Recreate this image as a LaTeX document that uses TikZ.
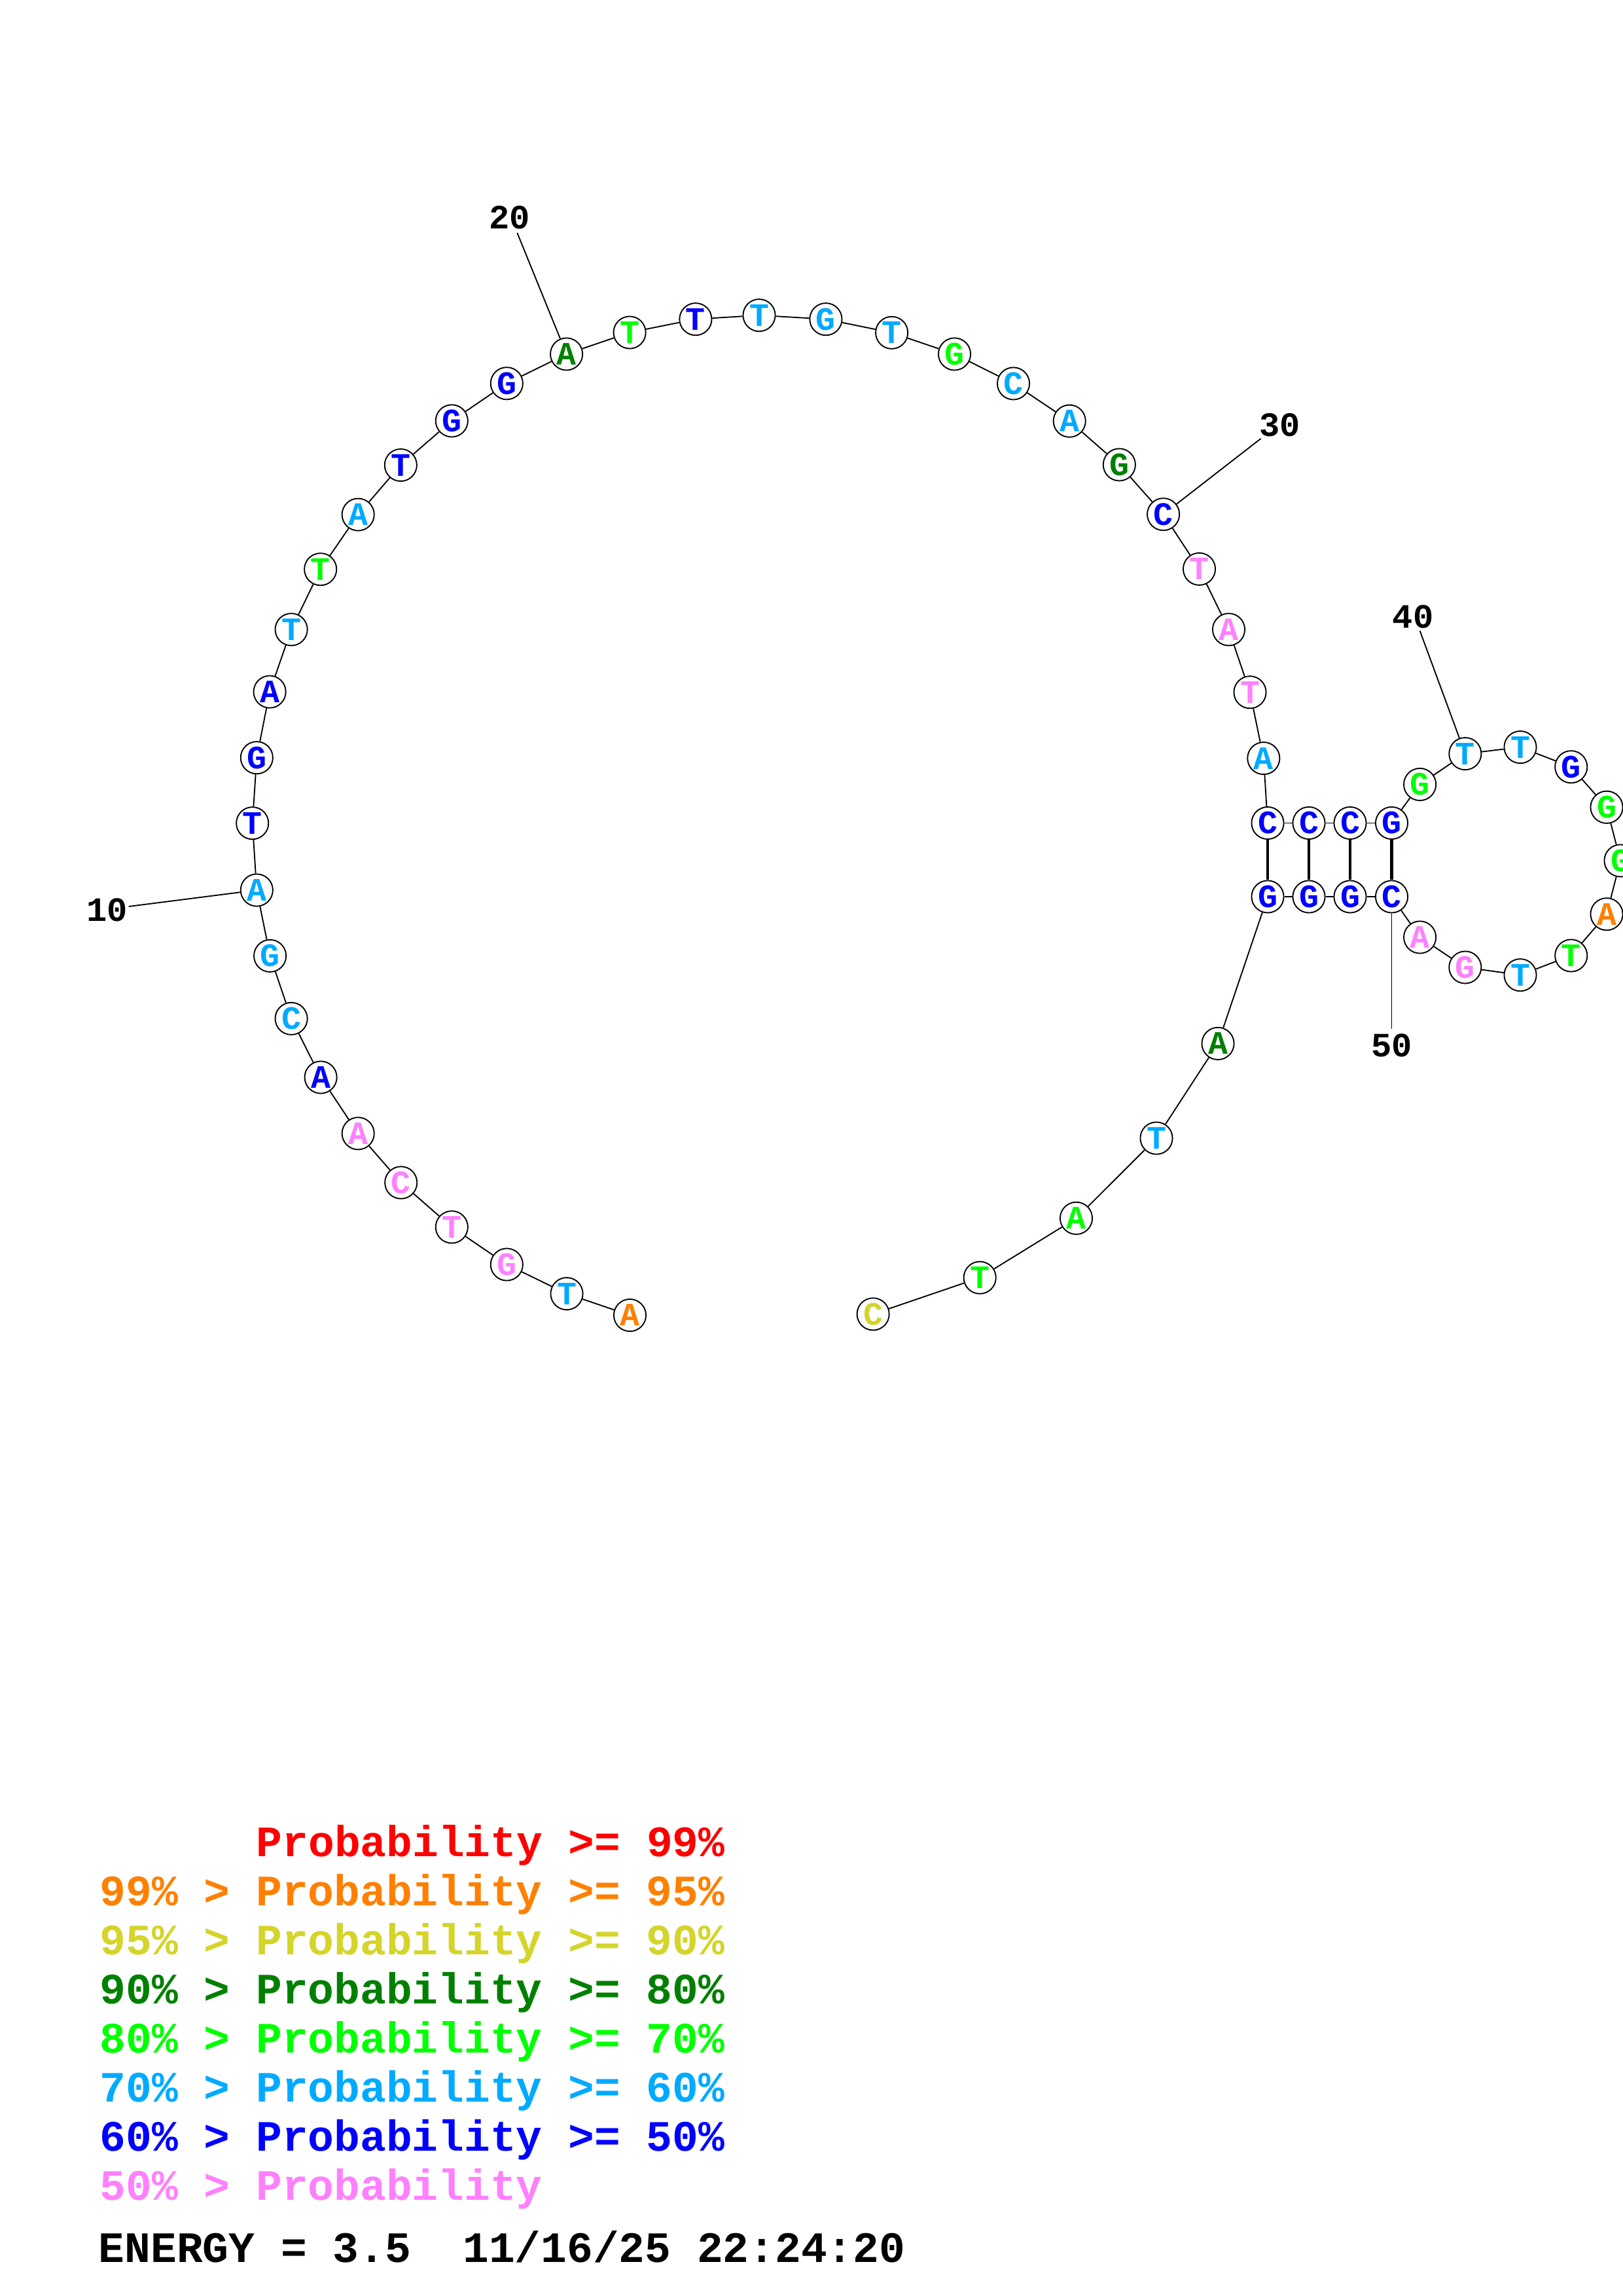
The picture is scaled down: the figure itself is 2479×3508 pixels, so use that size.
\documentclass[tikz,border=0pt]{standalone}
\usepackage{fontspec}
\setmainfont{Liberation Mono}
\definecolor{cR}{RGB}{255,0,0}
\definecolor{cO}{RGB}{255,128,0}
\definecolor{cY}{RGB}{212,212,42}
\definecolor{cD}{RGB}{0,128,0}
\definecolor{cG}{RGB}{0,255,0}
\definecolor{cL}{RGB}{0,170,255}
\definecolor{cB}{RGB}{0,0,255}
\definecolor{cP}{RGB}{255,128,255}
\begin{document}
\begin{tikzpicture}[x=0.24pt,y=-0.24pt,
  base/.style={circle,draw=black,fill=white,line width=0.45pt,minimum size=11.8pt,inner sep=0pt,
    font=\fontsize{12}{12}\selectfont\bfseries},
  bb/.style={line width=0.45pt},
  bp/.style={line width=1.15pt},
  numlab/.style={font=\fontsize{12.5}{12.5}\selectfont\bfseries,inner sep=0pt},
  leg/.style={font=\fontsize{15.9}{15.9}\selectfont\bfseries,inner sep=0pt,anchor=base west}]
\useasboundingbox (0,0) rectangle (2479,3508);
\foreach \i/\x/\y/\t/\c in {
 1/962.5/2009.5/A/cO, 2/866/1976.6/T/cL, 3/774.3/1932/G/cP, 4/690.3/1874.8/T/cP,
 5/612.7/1806.9/C/cP, 6/547.2/1731.8/A/cP, 7/490.1/1646/A/cB, 8/445.1/1556.3/C/cL,
 9/412.6/1460.4/G/cL, 10/392.3/1360/A/cL, 11/385.7/1257.7/T/cB, 12/392.3/1157.7/G/cB,
 13/412.1/1057/A/cB, 14/445.1/961.8/T/cL, 15/489.7/869.8/T/cG, 16/547.2/786.2/A/cL,
 17/612.3/710.6/T/cB, 18/690.3/643/G/cB, 19/774.3/585.8/G/cB, 20/865.6/541/A/cD,
 21/962.1/508/T/cG, 22/1062.9/487.7/T/cB, 23/1160/481.7/T/cL, 24/1261.9/487.7/G/cL,
 25/1362.6/508.3/T/cL, 26/1458.5/541/G/cG, 27/1548.5/586/C/cL, 28/1634.2/643.3/A/cL,
 29/1710.3/710/G/cD, 30/1777.6/785.8/C/cB, 31/1832.5/869.4/T/cP, 32/1877.5/961.8/A/cP,
 33/1910/1057.7/T/cP, 34/1930.8/1158.6/A/cL, 35/1937/1257.5/C/cB, 36/2000/1257.5/C/cB,
 37/2063/1257.5/C/cB, 38/2126.5/1257.5/G/cB, 39/2169.6/1198.5/G/cG, 40/2238.8/1151.6/T/cL,
 41/2323/1141.6/T/cL, 42/2400.7/1171.7/G/cB, 43/2455/1233.3/G/cG, 44/2476/1315/G/cG,
 45/2455/1396.7/A/cO, 46/2400.7/1460/T/cG, 47/2323/1489.7/T/cL, 48/2238.8/1478/G/cP,
 49/2169.6/1432/A/cP, 50/2126.5/1370/C/cB, 51/2063/1370/G/cB, 52/2000/1370/G/cB,
 53/1937/1370/G/cB, 54/1861/1594.4/A/cD, 55/1767/1739/T/cL, 56/1644.5/1861.3/A/cG,
 57/1497.2/1952.1/T/cG, 58/1334.1/2007.8/C/cY}
 \node[base,text=\c] (n\i) at (\x,\y) {\t};
\foreach \i in {1,...,57}{\pgfmathtruncatemacro\j{\i+1}\draw[bb] (n\i) -- (n\j);}
\draw[bp] (n35) -- (n53);
\draw[bp] (n36) -- (n52);
\draw[bp] (n37) -- (n51);
\draw[bp] (n38) -- (n50);
% position labels
\node[numlab] (l10) at (164,1390.5) {10};
\node[numlab] (l20) at (778.6,332.7) {20};
\node[numlab] (l30) at (1955.7,649.3) {30};
\node[numlab] (l40) at (2159,942) {40};
\node[numlab] (l50) at (2126.5,1597) {50};
\coordinate (c10) at (196.7,1385);
\coordinate (c20) at (790.3,355.7);
\coordinate (c30) at (1926.7,670);
\coordinate (c40) at (2169.6,963.8);
\coordinate (c50) at (2126.5,1572);
\draw[bb] (c10) -- (n10);
\draw[bb] (c20) -- (n20);
\draw[bb] (c30) -- (n30);
\draw[bb] (c40) -- (n40);
\draw[bb] (c50) -- (n50);
% legend
\node[leg,text=cR] (g1) at (391,2836) {Probability >= 99\%};
\node[leg,text=cO] (g2) at (152,2911) {99\% > Probability >= 95\%};
\node[leg,text=cY] (g3) at (152,2986) {95\% > Probability >= 90\%};
\node[leg,text=cD] (g4) at (152,3061) {90\% > Probability >= 80\%};
\node[leg,text=cG] (g5) at (152,3136) {80\% > Probability >= 70\%};
\node[leg,text=cL] (g6) at (152,3211) {70\% > Probability >= 60\%};
\node[leg,text=cB] (g7) at (152,3286) {60\% > Probability >= 50\%};
\node[leg,text=cP] (g8) at (152,3361) {50\% > Probability};
\node[leg,text=black] (en) at (150,3456) {ENERGY = 3.5~~11/16/25 22:24:20};
\end{tikzpicture}
\end{document}
